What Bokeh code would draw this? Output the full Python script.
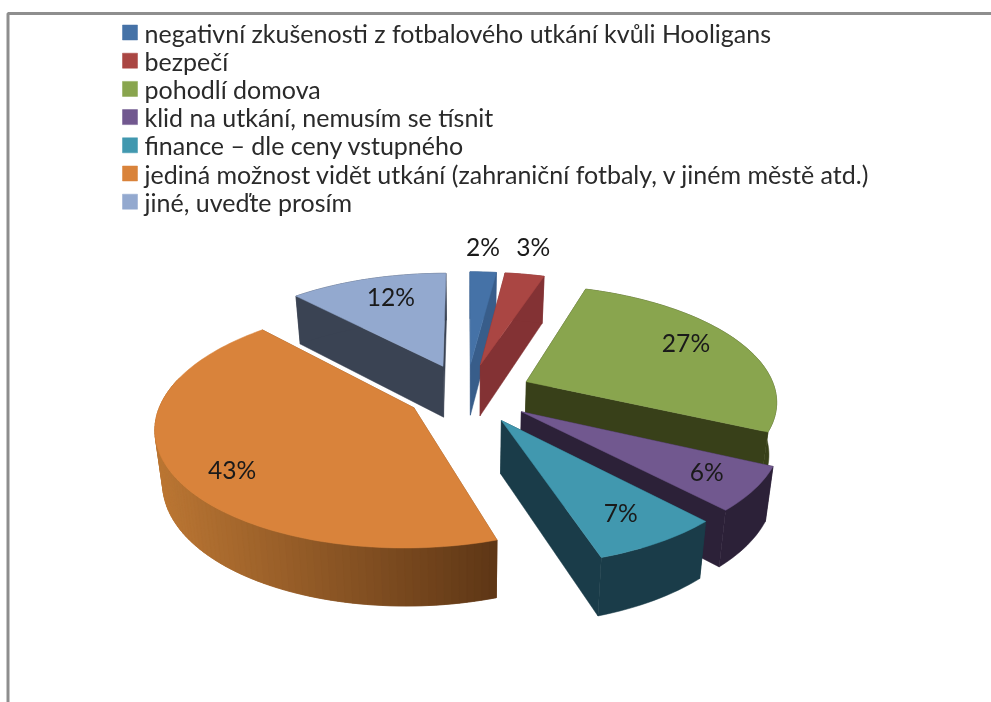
import math
from bokeh.plotting import figure
from bokeh.models import Range1d, ColumnDataSource
from bokeh.core.properties import value
from bokeh.embed import file_html
from bokeh.resources import INLINE

# ---- data ----
categories = [
    "negativní zkušenosti z fotbalového utkání kvůli Hooligans",
    "bezpečí",
    "pohodlí domova",
    "klid na utkání, nemusím se tísnit",
    "finance – dle ceny vstupného",
    "jediná možnost vidět utkání (zahraniční fotbaly, v jiném městě atd.)",
    "jiné, uveďte prosím",
]
percent = [2, 3, 27, 6, 7, 43, 12]

# ---- style ----
top_colors = ["#4572A7", "#AA4643", "#89A54E", "#71588F", "#4198AF", "#D9833B", "#93A9CF"]
side_colors = ["#385D8A", "#833234", "#384019", "#2C2138", "#1A3C49", "#8A5426", "#3A4353"]
FONT = "Lato"
W, H = 991, 702
CX, CY, A, B, Q = 466.0, 393.0, 250.0, 114.5, 0.15
explode = [0.265, 0.265, 0.265, 0.265, 0.265, 0.24, 0.265]
DEPTH, SHRINK = 52.0, 0.975
draw_order = [6, 0, 1, 2, 3, 5, 4]
# label placement: radial fraction along the mid angle + pixel nudge
label_r = [1.35, 1.45, 0.72, 0.72, 0.62, 0.75, 0.72]
label_nudge = [(-4, 2), (-8, 6), (6, -9), (22, 5), (27, 21), (-4, 14), (4, -5)]


def project(X, Y):
    w = 1 + Q * Y
    return CX + A * X / w, CY - B * Y / w, w


def sincos(deg):
    r = math.radians(deg)
    return math.sin(r), math.cos(r)


def lower(pt):
    sx, sy, w = pt
    return CX + (sx - CX) * SHRINK, sy + DEPTH / w ** 0.6


def lerp_hex(c1, c2, t):
    a = [int(c1[i:i + 2], 16) for i in (1, 3, 5)]
    b = [int(c2[i:i + 2], 16) for i in (1, 3, 5)]
    return "#%02x%02x%02x" % tuple(round(a[i] + (b[i] - a[i]) * t) for i in range(3))


p = figure(width=W, height=H, x_range=Range1d(0, W), y_range=Range1d(H, 0),
           toolbar_location=None, output_backend="svg", min_border=0,
           x_axis_location=None, y_axis_location=None, outline_line_color=None,
           background_fill_color="white", border_fill_color="white",
           styles={"position": "fixed", "left": "0px", "top": "0px"})
p.grid.visible = False

# frame of the pasted picture
p.line([7.5, 7.5, W], [H, 13, 13], line_color="#8E8E8E", line_width=3)

# slice angles from the values
total = sum(percent)
starts, ends = [], []
acc = 0.0
for v in percent:
    starts.append(acc / total * 360)
    acc += v
    ends.append(acc / total * 360)

xs, ys, fills = [], [], []


def add(poly, color):
    xs.append([q[0] for q in poly])
    ys.append([q[1] for q in poly])
    fills.append(color)


for i in draw_order:
    a0, a1 = starts[i], ends[i]
    mid = (a0 + a1) / 2
    ms, mc = sincos(mid)
    ox, oy = explode[i] * ms, explode[i] * mc
    apex = project(ox, oy)
    n = max(4, int((a1 - a0) / 1.5))
    angs = [a0 + (a1 - a0) * k / n for k in range(n + 1)]
    rim = []
    for a in angs:
        s, c = sincos(a)
        rim.append(project(ox + s, oy + c))
    # cut faces
    for r in (rim[0], rim[-1]):
        add([apex[:2], r[:2], lower(r), lower(apex)], side_colors[i])
    # outer wall
    if i == 5:
        x_dark = rim[0][0]
        x_light = min(r[0] for r in rim)
        # left to right: every strip overlaps the next one, so no seams show
        front = [k for k in range(n) if angs[k] < 285]
        for k in reversed(front):
            j = max(k - 1, 0)
            t = (x_dark - rim[k][0]) / (x_dark - x_light)
            add([rim[j][:2], rim[k + 1][:2], lower(rim[k + 1]), lower(rim[j])],
                lerp_hex("#5F3716", "#BC7734", t))
    else:
        add([r[:2] for r in rim] + [lower(r) for r in reversed(rim)], side_colors[i])
    # top face
    add([apex[:2]] + [r[:2] for r in rim], top_colors[i])

p.patches("xs", "ys", source=ColumnDataSource(dict(xs=xs, ys=ys, fill=fills)),
          fill_color="fill", line_color="fill", line_width=0.5)

# data labels
lx, ly, lt = [], [], []
for i, v in enumerate(percent):
    mid = (starts[i] + ends[i]) / 2
    ms, mc = sincos(mid)
    sx, sy, _ = project((explode[i] + label_r[i]) * ms, (explode[i] + label_r[i]) * mc)
    lx.append(sx + label_nudge[i][0])
    ly.append(sy + label_nudge[i][1])
    lt.append(f"{v}%")
p.text(lx, ly, text=lt, text_font=value(FONT), text_font_size="24.6px", text_color="#1a1a1a",
       text_align="center", text_baseline="middle")

# legend
LEG_X, LEG_Y, LEG_STEP = 129.5, 32.0, 28.2
ly2 = [LEG_Y + k * LEG_STEP for k in range(len(categories))]
p.scatter([LEG_X] * len(categories), ly2, marker="square", size=15,
          fill_color=top_colors, line_color=top_colors, line_width=0.5)
p.text([144] * len(categories), ly2, text=categories, text_font=value(FONT),
       text_font_size="25px", text_color="#2a2a2a", text_align="left", text_baseline="middle")

open("out.html", "w").write(file_html(p, INLINE))
